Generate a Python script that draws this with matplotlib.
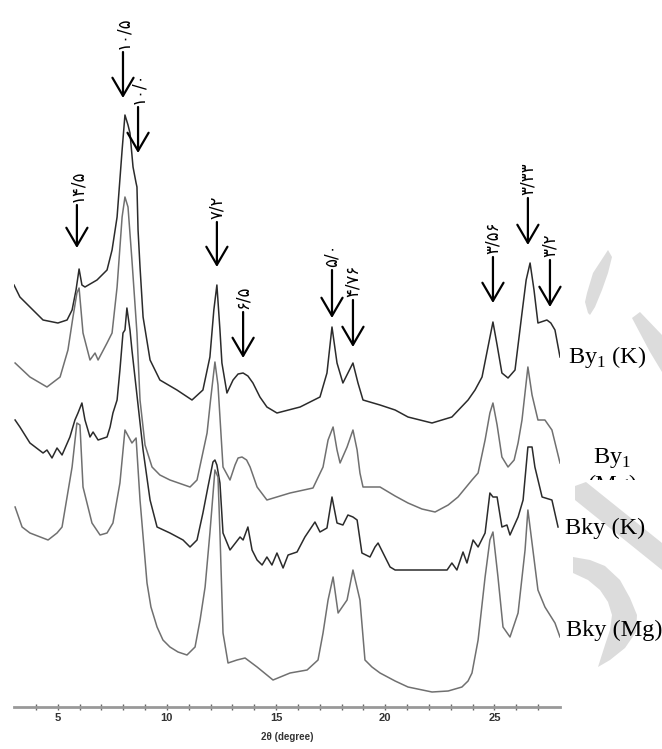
import numpy as np
import matplotlib
matplotlib.use('Agg')
import matplotlib.pyplot as plt
from matplotlib.patches import Polygon
from matplotlib.transforms import Bbox

# Stacked XRD patterns (2theta in degrees, intensity in arbitrary stacked units)
by1_k_theta = [3.00, 3.27, 3.73, 4.33, 5.01, 5.43, 5.66, 5.84, 5.98, 6.11, 6.25, 6.80, 7.26, 7.49, 7.72,
               7.95, 8.08, 8.22, 8.31, 8.45, 8.59, 8.63, 8.68, 8.77, 8.91, 9.23, 9.68, 10.46, 11.15,
               11.65, 11.97, 12.15, 12.29, 12.43, 12.52, 12.75, 13.03, 13.26, 13.49, 13.71, 13.94,
               14.26, 14.58, 15.04, 16.10, 17.01, 17.33, 17.56, 17.79, 18.06, 18.52, 18.75, 18.98,
               19.76, 20.45, 21.04, 22.14, 23.05, 23.79, 24.11, 24.43, 24.93, 25.12, 25.34, 25.62,
               25.94, 26.26, 26.45, 26.63, 26.81, 26.99, 27.40, 27.58, 27.77, 28.00]
by1_k_int = [422, 410, 400, 387, 384, 387, 397, 417, 438, 422, 420, 427, 437, 457, 490,
             557, 592, 582, 574, 540, 524, 520, 477, 440, 390, 347, 327, 317, 307,
             317, 350, 397, 422, 377, 344, 314, 327, 333, 334, 331, 324,
             310, 300, 294, 300, 310, 334, 380, 344, 324, 344, 324, 307,
             302, 297, 290, 284, 290, 307, 317, 330, 385, 362, 334, 329,
             337, 394, 427, 444, 417, 384, 387, 384, 377, 350]

by1_mg_theta = [3.05, 3.73, 4.51, 5.11, 5.47, 5.70, 5.88, 5.98, 6.16, 6.48, 6.71, 6.85, 7.26, 7.49,
                7.72, 7.95, 8.08, 8.22, 8.40, 8.63, 8.77, 9.00, 9.32, 9.68, 10.14, 11.06, 11.38,
                11.84, 12.00, 12.20, 12.34, 12.57, 12.89, 13.12, 13.26, 13.44, 13.65, 13.81, 14.13,
                14.58, 15.64, 16.69, 17.15, 17.38, 17.61, 17.79, 17.93, 18.25, 18.52, 18.71, 18.84,
                18.98, 19.30, 19.76, 20.45, 21.04, 21.68, 22.28, 22.88, 23.33, 23.97, 24.25, 24.57,
                24.79, 24.93, 25.12, 25.34, 25.62, 25.90, 26.08, 26.26, 26.53, 26.72, 26.99, 27.31,
                27.63, 28.00]
by1_mg_int = [344, 330, 320, 330, 357, 390, 414, 419, 374, 347, 354, 347, 364, 374,
              420, 490, 510, 500, 447, 374, 307, 262, 240, 232, 227, 220, 227,
              274, 307, 345, 322, 240, 227, 242, 249, 250, 247, 240, 220,
              207, 214, 219, 240, 267, 280, 257, 244, 260, 277, 257, 234,
              220, 220, 220, 211, 204, 198, 195, 202, 210, 227, 234, 267,
              294, 304, 282, 250, 240, 247, 264, 287, 340, 312, 287, 287,
              277, 244]

bky_k_theta = [3.05, 3.27, 3.73, 4.33, 4.51, 4.74, 4.97, 5.20, 5.56, 5.79, 5.93, 6.11, 6.25, 6.48,
               6.62, 6.85, 7.26, 7.40, 7.53, 7.72, 7.85, 7.99, 8.08, 8.17, 8.31, 8.40, 8.68, 8.91,
               9.23, 9.55, 10.14, 10.74, 11.06, 11.38, 11.65, 11.88, 12.11, 12.20, 12.29, 12.43,
               12.57, 12.89, 13.35, 13.49, 13.71, 13.90, 14.13, 14.36, 14.58, 14.81, 15.04, 15.32,
               15.55, 15.96, 16.32, 16.78, 17.01, 17.33, 17.56, 17.79, 18.06, 18.29, 18.52, 18.71,
               18.93, 19.30, 19.53, 19.67, 19.99, 20.22, 20.45, 21.82, 22.83, 23.05, 23.28, 23.56,
               23.74, 24.02, 24.25, 24.57, 24.79, 24.93, 25.12, 25.34, 25.57, 25.71, 26.08, 26.31,
               26.53, 26.72, 26.85, 27.18, 27.63, 27.91]
bky_k_int = [287, 280, 264, 254, 257, 249, 259, 252, 270, 287, 294, 304, 287, 270,
             275, 267, 270, 280, 294, 307, 337, 374, 377, 399, 377, 357, 302, 257,
             207, 180, 174, 167, 160, 167, 194, 220, 245, 247, 242, 224,
             174, 157, 170, 167, 180, 157, 147, 142, 150, 142, 154, 139,
             152, 155, 170, 185, 175, 179, 210, 184, 182, 192, 190, 187,
             154, 150, 160, 164, 150, 140, 137, 137, 137, 144, 137, 155,
             144, 167, 160, 174, 214, 210, 210, 180, 182, 172, 190, 207,
             260, 260, 240, 210, 207, 180]

bky_mg_theta = [3.05, 3.37, 3.73, 4.56, 4.97, 5.20, 5.43, 5.66, 5.88, 6.02, 6.16, 6.57, 6.94, 7.26,
                7.53, 7.85, 8.08, 8.40, 8.59, 8.77, 9.09, 9.27, 9.55, 9.82, 10.14, 10.51, 10.92,
                11.29, 11.52, 11.75, 11.97, 12.20, 12.34, 12.43, 12.57, 12.80, 13.21, 13.58, 14.13,
                14.86, 15.64, 16.42, 16.92, 17.15, 17.38, 17.61, 17.84, 18.25, 18.52, 18.84, 19.07,
                19.39, 19.76, 20.45, 21.04, 22.14, 22.88, 23.51, 23.79, 23.97, 24.25, 24.57, 24.79,
                24.93, 25.16, 25.39, 25.71, 26.08, 26.40, 26.53, 26.76, 26.99, 27.31, 27.77, 28.00]
bky_mg_int = [200, 180, 174, 167, 174, 180, 210, 240, 284, 282, 220, 184, 172, 174,
              184, 224, 277, 264, 269, 207, 124, 100, 80, 67, 60, 55, 52,
              60, 87, 120, 174, 237, 230, 174, 74, 44, 47, 49, 40,
              27, 34, 37, 47, 74, 107, 130, 94, 107, 137, 107, 47,
              40, 34, 26, 20, 15, 16, 20, 26, 34, 67, 130, 167,
              175, 130, 80, 70, 94, 157, 197, 157, 117, 100, 84, 70]

# peak markers: position, arrow tail, arrow tip, d-spacing label
peak_theta = [5.88, 7.99, 8.68, 12.29, 13.49, 17.56, 18.52, 24.93, 26.53, 27.54]
peak_tail = [502, 655, 600, 485, 395, 437, 407, 450, 509, 447]
peak_tip = [459, 609, 554, 440, 349, 389, 360, 404, 462, 400]
peak_labels = ['۱۴/۵', '۱۰/۵', '۱۰/۰', '۷/۲', '۶/۵', '۵/۰', '۴/۷۶', '۳/۵۶', '۳/۳۳', '۳/۲']

W, H = 662, 749

plt.rcParams['mathtext.fontset'] = 'custom'
plt.rcParams['mathtext.rm'] = 'Liberation Serif'

fig = plt.figure(figsize=(W / 100, H / 100), dpi=100)
ax = fig.add_axes([14 / W, 42 / H, 546 / W, 707 / H])


def px(x, y):
    # figure pixel (from top-left) to figure fraction
    return (x / W, 1 - y / H)


# watermark shapes on the right
shapes = [
    [(608, 250), (593, 273), (587, 293), (585, 302), (588, 313), (590, 315),
     (595, 307), (602, 290), (608, 273), (612, 257)],
    [(632, 318), (640, 312), (662, 335), (662, 372), (650, 352)],
    [(575, 486), (586, 482), (662, 543), (662, 570), (575, 500)],
    [(573, 557), (590, 560), (605, 566), (620, 580), (630, 598), (637, 615), (636, 632),
     (625, 648), (610, 660), (598, 667), (605, 645), (610, 630), (612, 615), (608, 602),
     (600, 590), (588, 580), (573, 573)],
]
for s in shapes:
    fig.add_artist(Polygon([px(*p) for p in s], closed=True, transform=fig.transFigure,
                           facecolor='#dcdcdc', edgecolor='none', zorder=0))

# traces
ax.plot(by1_k_theta, by1_k_int, color='#2b2b2b', lw=1.1)
ax.plot(by1_mg_theta, by1_mg_int, color='#707070', lw=1.1)
ax.plot(bky_k_theta, bky_k_int, color='#2b2b2b', lw=1.1)
ax.plot(bky_mg_theta, bky_mg_int, color='#707070', lw=1.1)

# arrows and d-spacing labels
for x, tail, tip, lab in zip(peak_theta, peak_tail, peak_tip, peak_labels):
    ax.annotate('', xy=(x, tip), xytext=(x, tail),
                arrowprops=dict(arrowstyle='->,head_length=0.65,head_width=0.38',
                                lw=1.6, color='black', mutation_scale=20,
                                shrinkA=0, shrinkB=0))
    ax.text(x, tail + 3, lab, rotation=90, ha='center', va='bottom',
            fontsize=12, family=['DejaVu Sans'], color='black')

# axis styling
ax.set_xlim(3, 28)
ax.set_ylim(0, 707)
ax.patch.set_alpha(0)
for side in ['left', 'right', 'top']:
    ax.spines[side].set_visible(False)
ax.spines['bottom'].set_color('#999999')
ax.spines['bottom'].set_linewidth(2)
ax.set_yticks([])
ax.set_xticks([5, 10, 15, 20, 25])
ax.set_xticks(np.arange(4, 28), minor=True)
ax.tick_params(axis='x', which='both', direction='inout', length=5, width=1,
               color='#666666', labelsize=8, pad=2, labelcolor='#333333')
for t in ax.get_xticklabels():
    t.set_fontweight('bold')
    t.set_family('Liberation Sans')
ax.set_xlabel('2θ (degree)', fontsize=7, fontweight='bold', family='Liberation Sans',
              color='#333333', labelpad=6)

# sample names
serif = dict(fontsize=17.5, family='Liberation Serif', va='center', ha='left')
fig.text(*px(568, 357), 'By$_1$ (K)', **serif)
fig.text(*px(593, 458), 'By$_1$', **serif)
mg = fig.text(*px(588, 485), '(Mg)', **serif)
mg.set_clip_box(Bbox.from_extents(0, H - 480, W, H))
mg.set_clip_on(True)
fig.text(*px(565, 528), 'Bky (K)', **serif)
fig.text(*px(566, 630), 'Bky (Mg)', **serif)

plt.savefig('out.png', dpi=100)
